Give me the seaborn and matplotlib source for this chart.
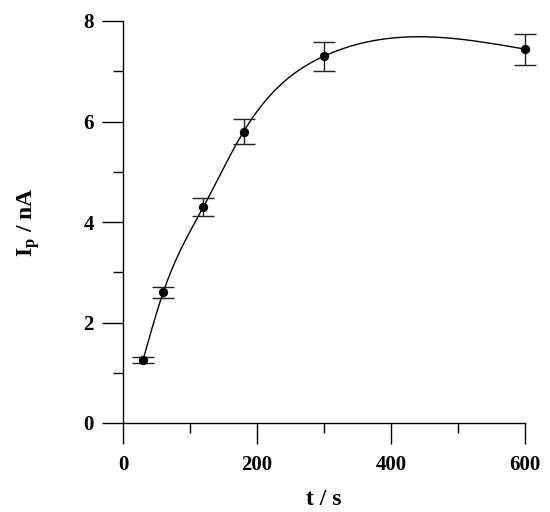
import numpy as np
import pandas as pd
import matplotlib
matplotlib.use("Agg")
import matplotlib.pyplot as plt
from matplotlib.ticker import MultipleLocator
import seaborn as sns

# Data
t_s = [30, 60, 120, 180, 300, 600]
ip_nA = [1.26, 2.60, 4.30, 5.80, 7.30, 7.44]
ip_err = [0.06, 0.11, 0.18, 0.24, 0.29, 0.31]
x_ticks = [0, 200, 400, 600]
y_ticks = [0, 2, 4, 6, 8]

sns.set_style("ticks")
plt.rcParams["font.family"] = ["Liberation Serif", "DejaVu Serif"]
plt.rcParams["font.weight"] = "bold"
plt.rcParams["text.color"] = "black"
plt.rcParams["axes.labelcolor"] = "black"
plt.rcParams["xtick.color"] = "black"
plt.rcParams["ytick.color"] = "black"
plt.rcParams["mathtext.fontset"] = "custom"
plt.rcParams["mathtext.rm"] = "Liberation Serif:bold"
plt.rcParams["mathtext.bf"] = "Liberation Serif:bold"
plt.rcParams["mathtext.it"] = "Liberation Serif:bold"

df = pd.DataFrame({"t": t_s, "ip": ip_nA, "err": ip_err})


def natural_spline(x, y, xs):
    x = np.asarray(x, float); y = np.asarray(y, float)
    n = len(x)
    h = np.diff(x)
    A = np.zeros((n, n)); b = np.zeros(n)
    A[0, 0] = A[-1, -1] = 1
    for i in range(1, n - 1):
        A[i, i - 1] = h[i - 1]; A[i, i] = 2 * (h[i - 1] + h[i]); A[i, i + 1] = h[i]
        b[i] = 6 * ((y[i + 1] - y[i]) / h[i] - (y[i] - y[i - 1]) / h[i - 1])
    M = np.linalg.solve(A, b)
    idx = np.clip(np.searchsorted(x, xs) - 1, 0, n - 2)
    x0, x1 = x[idx], x[idx + 1]; hh = x1 - x0
    return (M[idx] * (x1 - xs) ** 3 / (6 * hh) + M[idx + 1] * (xs - x0) ** 3 / (6 * hh)
            + (y[idx] / hh - M[idx] * hh / 6) * (x1 - xs)
            + (y[idx + 1] / hh - M[idx + 1] * hh / 6) * (xs - x0))


tt = np.linspace(min(t_s), max(t_s), 400)
fit_s = pd.DataFrame({"t": tt, "ip": natural_spline(t_s, ip_nA, tt)})

fig = plt.figure(figsize=(5.5, 5.12), dpi=100)
ax = fig.add_axes([123 / 550, 89 / 512, 402 / 550, 402 / 512])

sns.lineplot(data=fit_s, x="t", y="ip", ax=ax, color="black", linewidth=1.0, clip_on=False)
ax.errorbar(df["t"], df["ip"], yerr=df["err"], fmt="none", ecolor="#222222",
            elinewidth=1.0, capsize=8, capthick=1.0, clip_on=False, zorder=3)
sns.scatterplot(data=df, x="t", y="ip", ax=ax, color="black", s=45,
                edgecolor="black", linewidth=0, zorder=4, clip_on=False)

ax.set_xlim(0, 600)
ax.set_ylim(0, 8)
ax.set_xticks(x_ticks)
ax.set_yticks(y_ticks)
ax.xaxis.set_minor_locator(MultipleLocator(100))
ax.yaxis.set_minor_locator(MultipleLocator(1))
ax.tick_params(which="major", direction="out", length=15, width=1.0, color="black",
               labelcolor="black", labelsize=15, pad=6)
ax.tick_params(which="minor", direction="out", length=7.5, width=1.0, color="black")
ax.tick_params(axis="x", which="major", pad=8)
for lab in ax.get_xticklabels() + ax.get_yticklabels():
    lab.set_fontweight("bold")

for s in ["top", "right"]:
    ax.spines[s].set_visible(False)
for s in ["left", "bottom"]:
    ax.spines[s].set_linewidth(1.0)
    ax.spines[s].set_color("black")

ax.set_xlabel("t / s", fontsize=17, fontweight="bold", labelpad=10, color="black")
ax.set_ylabel(r"I$_\mathrm{p}$ / nA", fontsize=17, fontweight="bold", labelpad=30,
              color="black")

fig.savefig("out.png", dpi=100, facecolor="white")
